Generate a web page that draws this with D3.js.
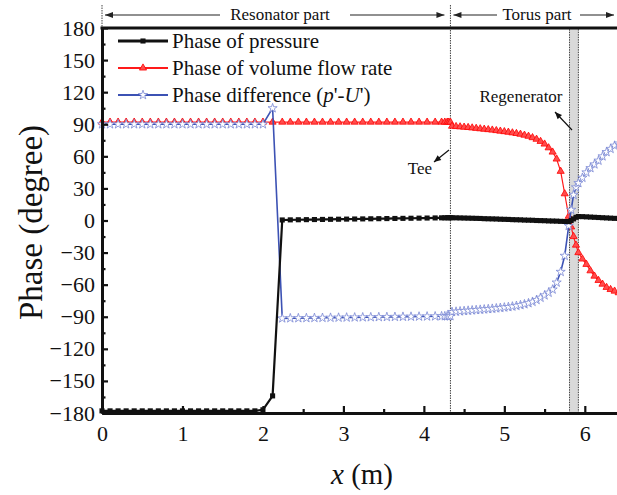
<!DOCTYPE html>
<html>
<head>
<meta charset="UTF-8">
<script src="https://cdn.jsdelivr.net/npm/d3@7"></script>
<style>
    body { margin: 0; background: #fff; }
    svg { display: block; }
    text { font-family: "Liberation Serif", "Times New Roman", serif; fill: #111; }
</style>
</head>
<body>
<script>
    // resonator part grid (m) and the three phases (degree)
    const xRes = [0, 0.1, 0.2, 0.3, 0.4, 0.5, 0.6, 0.7, 0.8, 0.9, 1.0, 1.1, 1.2, 1.3, 1.4, 1.5, 1.6, 1.7, 1.8, 1.9, 2.0,
        2.12, 2.24, 2.34, 2.44, 2.54, 2.64, 2.74, 2.84, 2.94, 3.04, 3.14, 3.24, 3.34, 3.44, 3.54, 3.64, 3.74, 3.84, 3.94,
        4.04, 4.14, 4.22, 4.26, 4.29, 4.31, 4.33];
    const pressureRes = [-178, -178, -178, -178, -178, -178, -178, -178, -178, -178, -178, -178, -178, -178, -178, -178, -178, -178, -178, -178, -177,
        -164, 0.5, 0.6, 0.7, 0.8, 0.9, 1.0, 1.1, 1.2, 1.3, 1.4, 1.5, 1.6, 1.7, 1.8, 1.9, 2.0, 2.1, 2.2,
        2.3, 2.4, 2.5, 2.5, 2.6, 2.6, 2.6];
    const flowRes = [92, 92, 92, 92, 92, 92, 92, 92, 92, 92, 92, 92, 92, 92, 92, 92, 92, 92, 92, 92, 92,
        92, 92, 92, 92, 92, 92, 92, 92, 92, 92, 92, 92, 92, 92, 92, 92, 92, 92, 92,
        92, 92, 92, 92, 92, 92, 92];
    const diffRes = [90, 90, 90, 90, 90, 90, 90, 90, 90, 90, 90, 90, 90, 90, 90, 90, 90, 90, 90, 90, 90,
        105, -91.5, -91.4, -91.3, -91.2, -91.1, -91, -90.9, -90.8, -90.7, -90.6, -90.5, -90.4, -90.3, -90.2, -90.1, -90, -89.9, -89.8,
        -89.7, -89.6, -89.5, -89.5, -89.4, -89.4, -89.4];

    // torus part grid (m), regenerator included
    const xTorus = [4.35, 4.40, 4.45, 4.50, 4.55, 4.60, 4.65, 4.70, 4.75, 4.80, 4.85, 4.90, 4.95, 5.00, 5.05,
        5.10, 5.15, 5.20, 5.25, 5.30, 5.35, 5.40, 5.45, 5.50, 5.55, 5.60, 5.65, 5.70, 5.75, 5.80,
        5.83, 5.86, 5.89,
        5.92, 5.97, 6.02, 6.07, 6.12, 6.17, 6.22, 6.27, 6.32, 6.37, 6.42];
    const pressureTorus = [2.6, 2.5, 2.4, 2.3, 2.2, 2.1, 2.0, 1.9, 1.7, 1.6, 1.5, 1.4, 1.2, 1.1, 1.0,
        0.8, 0.7, 0.6, 0.4, 0.3, 0.2, 0.0, -0.1, -0.2, -0.4, -0.5, -0.6, -0.8, -0.9, -1.0,
        0.0, 1.5, 3.0,
        3.7, 3.6, 3.4, 3.2, 3.0, 2.8, 2.6, 2.4, 2.2, 2.0, 1.8];
    const flowTorus = [88.2, 87.9, 87.6, 87.3, 87.0, 86.6, 86.2, 85.8, 85.4, 85.0, 84.6, 84.1, 83.6, 83.1, 82.6,
        82.0, 81.4, 80.7, 79.8, 78.8, 77.5, 76.0, 74.0, 71.5, 68.0, 64.0, 57.5, 46, 25, 4,
        -6, -15, -23,
        -30, -36, -41, -47, -52, -56, -59.5, -62.5, -64.5, -66, -67.5];
    const diffTorus = [-85.5, -85.2, -84.9, -84.6, -84.3, -84.0, -83.7, -83.4, -83.1, -82.8, -82.5, -82.1, -81.7, -81.3, -80.9,
        -80.4, -79.8, -79.1, -78.3, -77.3, -76, -74.3, -72.2, -70, -67.5, -64.5, -58, -48, -33, -5,
        10, 24, 31,
        35, 40, 45, 49, 52.5, 56, 60, 64, 67, 70, 72];

    const xTicks = [0, 1, 2, 3, 4, 5, 6];
    const xMinorTicks = [0.5, 1.5, 2.5, 3.5, 4.5, 5.5];
    const yTicks = [-180, -150, -120, -90, -60, -30, 0, 30, 60, 90, 120, 150, 180];
    const yMinorTicks = [-165, -135, -105, -75, -45, -15, 15, 45, 75, 105, 135, 165];

    const seriesNames = ["Phase of pressure", "Phase of volume flow rate", "Phase difference"];
    const teeX = 4.33;
    const regenerator = [5.81, 5.92];

    const width = 617, height = 495;
    const pLeft = 102, pRight = 617, pTop = 28, pBottom = 413;
    const serif = '"Liberation Serif", "Times New Roman", serif';

    const svg = d3.select("body").append("svg")
        .attr("width", width)
        .attr("height", height);

    const x = d3.scaleLinear().domain([0, 6.4]).range([pLeft, pRight]);
    const y = d3.scaleLinear().domain([-180, 180]).range([pBottom, pTop]);

    const xAll = xRes.concat(xTorus);
    const toPoints = (a, b) => { const v = a.concat(b); return xAll.map((xv, i) => [xv, v[i]]); };

    const series = [
        { name: seriesNames[0], pts: toPoints(pressureRes, pressureTorus), line: "#111", width: 2.2,
          sym: d3.symbolSquare, size: 26, fill: "#111", stroke: "none" },
        { name: seriesNames[1], pts: toPoints(flowRes, flowTorus), line: "#ff1a1a", width: 1.2,
          sym: d3.symbolTriangle, size: 22, fill: "#ff4d4d", stroke: "#ff0000" },
        { name: seriesNames[2], pts: toPoints(diffRes, diffTorus), line: "#3c52b4", width: 1.6,
          sym: d3.symbolStar, size: 26, fill: "#fff", stroke: "#7a88d4" }
    ];

    svg.append("clipPath").attr("id", "plot")
        .append("rect").attr("x", pLeft - 6).attr("y", pTop).attr("width", pRight - pLeft + 6).attr("height", pBottom - pTop + 4);

    // regenerator band
    svg.append("rect")
        .attr("x", x(regenerator[0])).attr("y", pTop)
        .attr("width", x(regenerator[1]) - x(regenerator[0])).attr("height", pBottom - pTop)
        .attr("fill", "#d9d9d9").attr("stroke", "#444").attr("stroke-width", 1)
        .attr("stroke-dasharray", "1.5,1");

    // tee line and part boundaries
    svg.append("line")
        .attr("x1", x(teeX)).attr("x2", x(teeX)).attr("y1", 5).attr("y2", pBottom)
        .attr("stroke", "#444").attr("stroke-width", 1).attr("stroke-dasharray", "1.5,1");
    svg.append("line")
        .attr("x1", x(0)).attr("x2", x(0)).attr("y1", 5).attr("y2", pTop)
        .attr("stroke", "#444").attr("stroke-width", 1).attr("stroke-dasharray", "1.5,1");

    const plot = svg.append("g").attr("clip-path", "url(#plot)");
    const line = d3.line().x(d => x(d[0])).y(d => y(d[1]));

    // draw red first, then blue, black on top
    [series[1], series[2], series[0]].forEach(s => {
        plot.append("path")
            .attr("d", line(s.pts))
            .attr("fill", "none")
            .attr("stroke", s.line)
            .attr("stroke-width", s.width);
        plot.selectAll(null)
            .data(s.pts)
            .enter().append("path")
            .attr("transform", d => `translate(${x(d[0])},${y(d[1])})`)
            .attr("d", d3.symbol().type(s.sym).size(s.size))
            .attr("fill", s.fill)
            .attr("stroke", s.stroke)
            .attr("stroke-width", 0.8);
    });

    // axes
    const fmt = d3.format("d");
    svg.append("g").attr("transform", `translate(${pLeft},0)`)
        .call(d3.axisLeft(y).tickValues(yTicks).tickFormat(fmt).tickSize(-6).tickSizeOuter(0).tickPadding(7));
    svg.append("g").attr("transform", `translate(${pLeft},0)`)
        .call(d3.axisLeft(y).tickValues(yMinorTicks).tickSize(-3.5).tickSizeOuter(0).tickFormat(""));
    svg.append("g").attr("transform", `translate(0,${pBottom})`)
        .call(d3.axisBottom(x).tickValues(xTicks).tickFormat(fmt).tickSize(-7).tickSizeOuter(0).tickPadding(12));
    svg.append("g").attr("transform", `translate(0,${pBottom})`)
        .call(d3.axisBottom(x).tickValues(xMinorTicks).tickSize(-4).tickSizeOuter(0).tickFormat(""));

    svg.selectAll("g").attr("font-family", null).attr("font-size", null);
    svg.selectAll(".domain").attr("stroke", "#111").attr("stroke-width", 3);
    svg.selectAll(".tick line").attr("stroke", "#111").attr("stroke-width", 2.2);
    svg.selectAll(".tick text")
        .style("font-family", serif)
        .style("font-size", "22px")
        .attr("fill", "#111");

    // top frame
    svg.append("line")
        .attr("x1", pLeft - 1.5).attr("x2", pRight).attr("y1", pTop).attr("y2", pTop)
        .attr("stroke", "#111").attr("stroke-width", 3);

    // axis titles
    svg.append("text")
        .attr("transform", `translate(42,${(pTop + pBottom) / 2 + 2}) rotate(-90)`)
        .attr("text-anchor", "middle")
        .style("font-size", "33px")
        .text("Phase (degree)");
    const xt = svg.append("text")
        .attr("x", 362).attr("y", 484)
        .attr("text-anchor", "middle")
        .style("font-size", "29px");
    xt.append("tspan").style("font-style", "italic").text("x");
    xt.append("tspan").text(" (m)");

    // legend
    const legend = svg.append("g");
    series.forEach((s, i) => {
        const ly = 41 + i * 27;
        legend.append("line")
            .attr("x1", 118).attr("x2", 168).attr("y1", ly).attr("y2", ly)
            .attr("stroke", s.line).attr("stroke-width", s.width + 0.6);
        legend.append("path")
            .attr("transform", `translate(143,${ly})`)
            .attr("d", d3.symbol().type(s.sym).size(s.size))
            .attr("fill", s.fill).attr("stroke", s.stroke).attr("stroke-width", 0.8);
        const t = legend.append("text")
            .attr("x", 172).attr("y", ly + 7)
            .style("font-size", "21px");
        if (i < 2) {
            t.text(s.name);
        } else {
            t.append("tspan").text(s.name + " (");
            t.append("tspan").style("font-style", "italic").text("p");
            t.append("tspan").text("'-");
            t.append("tspan").style("font-style", "italic").text("U");
            t.append("tspan").text("')");
        }
    });

    // arrow helper
    function arrow(x1, y1, x2, y2, color, head) {
        svg.append("line")
            .attr("x1", x1).attr("y1", y1).attr("x2", x2).attr("y2", y2)
            .attr("stroke", color).attr("stroke-width", 1.2);
        const a = Math.atan2(y2 - y1, x2 - x1);
        const h = head || 8, w = 3;
        const p1 = [x2 - h * Math.cos(a) + w * Math.sin(a), y2 - h * Math.sin(a) - w * Math.cos(a)];
        const p2 = [x2 - h * Math.cos(a) - w * Math.sin(a), y2 - h * Math.sin(a) + w * Math.cos(a)];
        svg.append("path")
            .attr("d", `M${x2},${y2}L${p1[0]},${p1[1]}L${p2[0]},${p2[1]}Z`)
            .attr("fill", color);
    }

    // part annotations above the frame
    svg.append("text").attr("x", 280).attr("y", 20).attr("text-anchor", "middle")
        .style("font-size", "17px").text("Resonator part");
    arrow(220, 15, x(0) + 3, 15, "#222");
    arrow(350, 15, x(teeX) - 6, 15, "#222");
    svg.append("text").attr("x", 537).attr("y", 20).attr("text-anchor", "middle")
        .style("font-size", "17px").text("Torus part");
    arrow(497, 15, x(teeX) + 3, 15, "#222");
    arrow(580, 15, 614, 15, "#222");

    // labels inside the plot
    svg.append("text").attr("x", 521).attr("y", 102).attr("text-anchor", "middle")
        .style("font-size", "17px").text("Regenerator");
    arrow(572, 130, 555, 112, "#111", 7);
    svg.append("text").attr("x", 420).attr("y", 174).attr("text-anchor", "middle")
        .style("font-size", "17px").text("Tee");
    arrow(449, 150, 434, 162, "#111", 7);
</script>
</body>
</html>
